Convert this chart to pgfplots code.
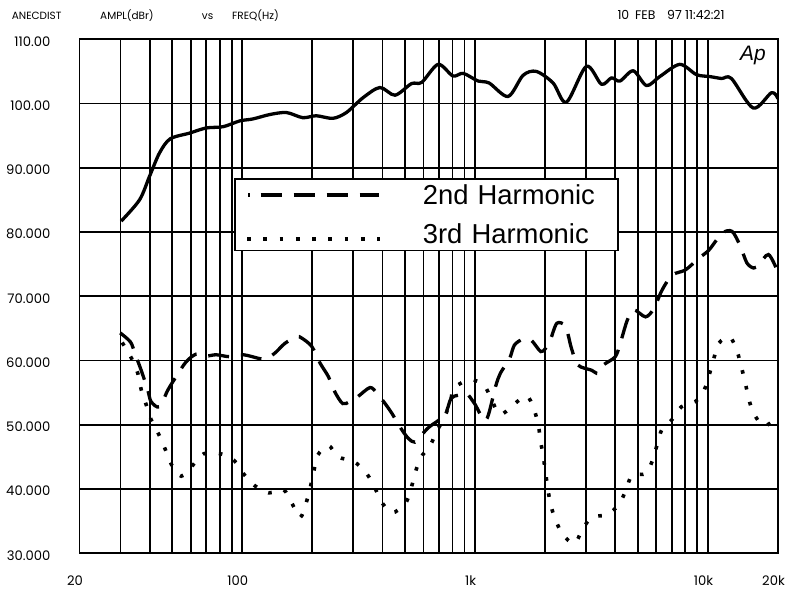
\documentclass[border=0pt]{standalone}
\usepackage{fontspec}
\setmainfont{Liberation Sans}
\newfontfamily\tickfont{Poppins}
\usepackage{pgfplots}
\pgfplotsset{compat=1.18}

\tikzset{
  mainline/.style={black, line width=3.3bp, line join=round},
  harm2/.style={black, line width=3.3bp, dash pattern=on 21bp off 12bp},
  harm3/.style={black, line width=3.6bp, dash pattern=on 3.6bp off 12.65bp},
}
\pgfplotsset{
  leg2/.style={legend image code/.code={
    \path (-11bp,0bp) (173bp,0bp);
    \draw[##1] (0bp,0bp) -- (1.5bp,0bp);
    \draw[##1] (12.5bp,0bp) -- (131bp,0bp);}},
  leg3/.style={legend image code/.code={
    \path (-11bp,0bp) (173bp,0bp);
    \draw[##1] (-0.8bp,-4bp) -- (132bp,-4bp);}},
}

\begin{document}
\begin{tikzpicture}
\begin{axis}[
  at={(0bp,0bp)}, anchor=south west,
  scale only axis, width=698.5bp, height=514bp,
  xmode=log, xmin=20, xmax=20000, ymin=30, ymax=110,
  xtick={20,100,1000,10000,20000},
  xticklabels={20,100,1k,10k,20k},
  minor xtick={30,40,50,60,70,80,90,200,300,400,500,600,700,800,900,2000,3000,4000,5000,6000,7000,8000,9000},
  ytick={30,40,50,60,70,80,90,100,110},
  yticklabels={30.000,40.000,50.000,60.000,70.000,80.000,90.000,100.00,110.00},
  xmajorgrids, xminorgrids, ymajorgrids,
  grid style={black, line width=1.8bp},
  major tick length=0pt, minor tick length=0pt,
  axis line style={black, line width=1.9bp},
  ticklabel style={font=\tickfont\fontsize{13.2}{15}\selectfont},
  xticklabel style={anchor=center, inner sep=0pt, yshift=-27.4bp, xshift=-4.5bp},
  yticklabel style={anchor=east, inner sep=0pt, xshift=-29bp, yshift=-2bp},
  legend style={at={(0.2218,0.7296)}, anchor=north west, draw=black,
    line width=1.6bp, fill=white, inner xsep=0bp, inner ysep=6.7bp,
    row sep=21.2bp,
    nodes={inner sep=0bp, text height=18.5bp, text depth=0bp,
      text width=195bp, align=left, font=\fontsize{27.5}{30}\selectfont}},
  legend cell align=left,
]
% amplitude
\addplot[mainline, smooth, forget plot] coordinates {
(30.2,81.7) (36.2,85.0) (40,88.7) (44.1,92.3) (49,94.5) (59.4,95.4)
(70,96.2) (82.8,96.4) (97.6,97.3) (111,97.6) (131.6,98.3) (155,98.6)
(182,97.8) (208,98.1) (245,97.7) (280,98.6) (330,100.9) (390,102.5)
(453,101.3) (533,103.1) (590,103.3) (694,106.1) (803,104.3) (890,104.7)
(1030,103.5) (1149,103.2) (1386,101.1) (1608,104.4) (1833,105.0)
(2163,103.2) (2467,100.2) (3007,105.8) (3490,103.0) (3855,104.0)
(4188,103.5) (4778,105.1) (5449,102.8) (6212,104.2) (7575,106.1)
(8928,104.5) (10190,104.2) (11450,103.9) (12620,103.9) (15660,99.3)
(18770,101.7) (20000,100.75)
};
% 2nd harmonic
\addplot[harm2, smooth, leg2] coordinates {
(29.9,64.3) (33.1,62.9) (34.6,61.1) (36.8,58.5) (39.3,55.4) (40.6,53.6)
(44.1,52.8) (47.9,55.4) (52.0,57.5) (57.4,59.8) (63.4,61.0) (70.0,60.7)
(77.3,60.9) (88.2,60.6) (101.2,60.9) (118.9,60.3) (127,60.3) (138.5,61.2)
(152.8,62.7) (171.5,63.7) (180,63.5) (198.8,62.2) (215.9,59.6) (234.4,57.5)
(250,55.1) (270,53.3) (289,53.6) (314,54.4) (354,55.8) (379,54.9)
(405,53.6) (439,51.8) (475,49.7) (516,47.9) (551,47.3) (588,48.4)
(637,49.7) (740,51.5) (788,54.1) (846,54.6) (917,54.9) (995,53.3)
(1113,50.7) (1223,55.9) (1283,58.0) (1406,60.3) (1475,62.4) (1600,63.3)
(1738,63.2) (1913,61.4) (2007,61.9) (2104,63.2) (2244,65.8) (2431,65.5)
(2510,64.0) (2594,61.9) (2766,59.3) (3162,58.5) (3376,58.0) (3553,59.3)
(4000,60.6) (4220,62.9) (4507,66.3) (4806,67.9) (5398,66.8) (5860,68.1)
(6360,71.0) (7017,73.3) (8000,74.1) (9120,75.9) (10100,77.2) (11500,79.8)
(12700,80.1) (13780,77.8) (14700,75.2) (15720,74.4) (16520,74.9)
(18200,76.5) (19800,74.1)
};
\addlegendentry{2nd Harmonic}
% 3rd harmonic
\addplot[harm3, smooth, leg3] coordinates {
(30.5,62.8) (33.4,60.4) (35.6,58.0) (36.8,55.5) (38.7,53.1) (40.6,50.8)
(43.8,48.5) (46.8,46.1) (49.5,43.9) (54.7,42.0) (61.3,43.7) (68.4,45.5)
(80.5,45.5) (92.0,44.5) (101.2,42.4) (112.4,40.6) (129.9,39.4) (150.3,39.9)
(163.3,37.8) (177.6,35.6) (188.7,38.0) (196.4,40.4) (203.0,42.8)
(211.2,45.3) (234.4,46.8) (258.5,45.0) (301,44.3) (339,42.6) (368,40.5)
(395,38.1) (439,36.3) (501,37.7) (530,40.0) (552,42.4) (582,44.8)
(642,46.8) (684,49.0) (740,51.2) (785,53.8) (815,55.8) (953,57.0)
(1100,56.0) (1271,51.7) (1445,53.0) (1665,54.5) (1791,52.4) (1870,49.9)
(1913,47.4) (1964,45.0) (2008,42.5) (2055,40.0) (2110,37.6) (2220,35.1)
(2385,32.9) (2663,31.5) (2884,33.6) (3160,35.6) (3680,36.0) (4150,37.6)
(4450,39.9) (4730,42.2) (5400,42.4) (5800,44.6) (6060,47.0) (6350,49.3)
(7010,50.8) (7690,52.8) (8830,53.6) (9660,55.5) (10150,57.9) (10600,60.3)
(11140,62.7) (12420,63.7) (13350,61.4) (13920,59.0) (14480,56.5)
(14960,54.1) (15720,51.8) (17350,49.8) (19640,51.0)
};
\addlegendentry{3rd Harmonic}
\end{axis}
% header line and logo
\begin{scope}[every node/.style={anchor=base west, inner sep=0pt,
    font=\tickfont\fontsize{10.5}{12}\selectfont}]
\node at (-67.8bp,534bp) {ANECDIST};
\node at (20.5bp,534bp) {AMPL(dBr)};
\node at (122.2bp,534bp) {vs};
\node at (152.5bp,534bp) {FREQ(Hz)};
\end{scope}
\begin{scope}[every node/.style={anchor=base west, inner sep=0pt,
    font=\tickfont\fontsize{12.5}{14}\selectfont}]
\node at (537.8bp,534bp) {10};
\node at (555.5bp,534bp) {FEB};
\node at (587.5bp,534bp) {97};
\node at (605.5bp,534bp) {11:42:21};
\end{scope}
\node[anchor=base west, inner sep=0pt, font=\itshape\fontsize{21}{22}\selectfont]
  at (660.5bp,493bp) {Ap};
\pgfresetboundingbox
\useasboundingbox (-79.5bp,-38.7bp) rectangle (706.5bp,553.3bp);
\end{tikzpicture}
\end{document}
